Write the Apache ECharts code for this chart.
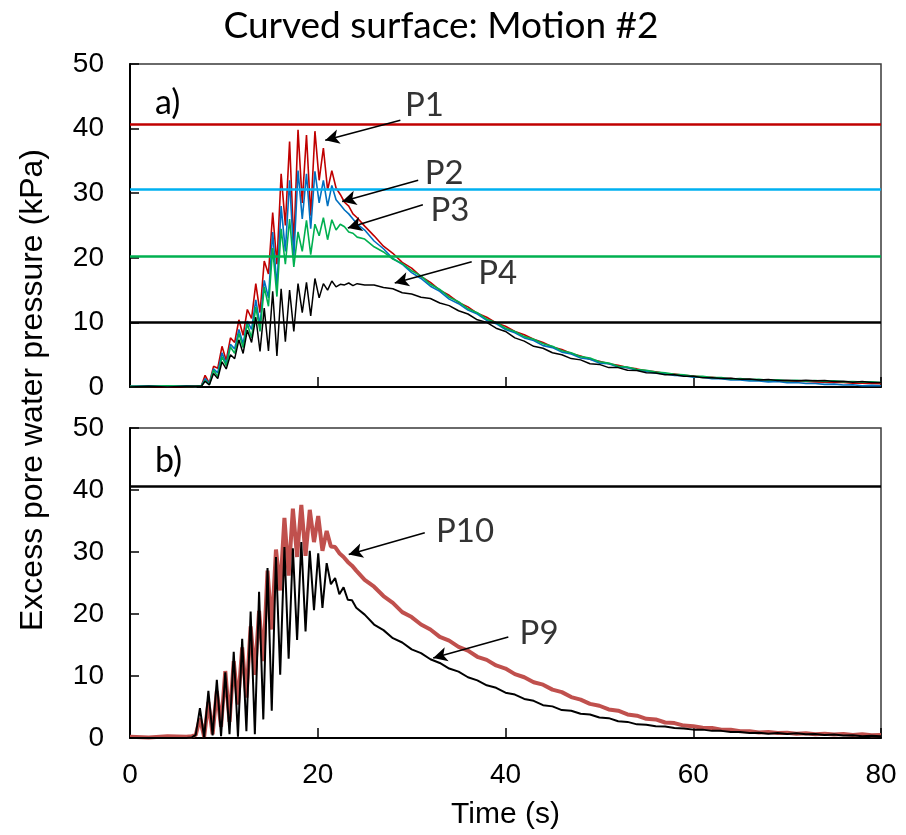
<!DOCTYPE html>
<html>
<head>
<meta charset="utf-8">
<script src="https://cdn.jsdelivr.net/npm/echarts@6/dist/echarts.min.js"></script>
<style>
html,body{margin:0;padding:0;background:#fff;}
#chart{width:906px;height:835px;}
</style>
</head>
<body>
<div id="chart"></div>
<script>
// ---------- Panel a) time base (s) ----------
const timeA = [0, 2, 4, 6, 7, 7.6,
  8.0, 8.45, 8.9, 9.35, 9.8, 10.25, 10.7, 11.15, 11.6, 12.05,
  12.5, 12.95, 13.4, 13.85, 14.3, 14.75, 15.2, 15.65, 16.1, 16.55,
  17.0, 17.45, 17.9, 18.35, 18.8, 19.25, 19.7, 20.15, 20.6, 21.05,
  21.5, 21.95, 22.4, 22.85, 23.3, 23.75, 24.2,
  25, 26, 27, 28, 29, 30, 31, 32, 33, 34,
  35, 36, 37, 38, 39, 40, 41, 42, 43, 44,
  45, 46, 47, 48, 49, 50, 51, 52, 53, 54,
  55, 56, 57, 58, 59, 60, 61, 62, 63, 64,
  65, 66, 67, 68, 69, 70, 71, 72, 73, 74,
  75, 76, 77, 78, 79, 80];

const p1 = [0.1, 0.1, 0.0, 0.1, 0.1, 0.2,
  1.8, 0.6, 3.2, 2.9, 6.3, 4.1, 7.6, 6.9, 10.4, 8.0,
  12.0, 10.6, 16.0, 11.5, 19.5, 17.5, 27.0, 19.0, 33.0, 25.0,
  38.0, 22.0, 39.8, 28.5, 39.0, 26.5, 39.6, 32.0, 37.0, 30.5,
  33.5, 30.8, 29.8, 28.6, 28.0, 26.8, 26.2,
  24.9, 23.4, 21.8, 20.7, 19.3, 18.4, 17.1, 16.2, 15.0, 14.2,
  13.1, 12.4, 11.4, 10.8, 9.9, 9.4, 8.6, 8.1, 7.4, 6.9,
  6.2, 5.8, 5.2, 4.8, 4.3, 4.0, 3.6, 3.35, 3.0, 2.8,
  2.5, 2.35, 2.1, 2.0, 1.8, 1.7, 1.55, 1.5, 1.35, 1.3,
  1.2, 1.15, 1.05, 1.0, 0.95, 0.95, 0.85, 0.85, 0.8, 0.75,
  0.7, 0.7, 0.6, 0.6, 0.55, 0.5];

const p2 = [0.1, 0.2, 0.1, 0.2, 0.1, 0.2,
  1.3, 0.5, 2.8, 2.2, 5.3, 3.6, 6.6, 5.9, 8.9, 6.7,
  10.2, 8.9, 13.5, 9.6, 16.5, 13.8, 24.0, 15.5, 28.0, 21.0,
  32.0, 20.0, 33.5, 26.0, 33.0, 24.5, 33.4, 28.5, 32.0, 28.0,
  31.2, 29.0, 28.2, 27.4, 26.8, 26.0, 25.2,
  24.3, 22.6, 21.4, 19.9, 19.0, 17.7, 16.8, 15.6, 14.8, 13.6,
  12.9, 11.9, 11.3, 10.3, 9.8, 8.9, 8.4, 7.6, 7.2, 6.4,
  6.1, 5.4, 5.1, 4.5, 4.3, 3.7, 3.6, 3.1, 3.0, 2.6,
  2.45, 2.15, 2.05, 1.8, 1.75, 1.5, 1.5, 1.3, 1.3, 1.1,
  1.1, 0.95, 0.95, 0.8, 0.85, 0.65, 0.7, 0.55, 0.55, 0.4,
  0.45, 0.3, 0.35, 0.2, 0.25, 0.2];

const p3 = [0.1, 0.1, 0.2, 0.1, 0.1, 0.2,
  1.0, 0.4, 2.6, 1.6, 4.7, 3.3, 6.2, 5.2, 8.3, 6.1,
  9.8, 7.6, 12.4, 8.6, 15.5, 12.5, 21.5, 14.0, 24.5, 19.0,
  26.0, 18.6, 24.0, 21.0, 25.8, 20.5, 25.2, 23.4, 26.2, 22.8,
  25.9, 24.3, 25.2, 24.8, 24.0, 23.8, 23.2,
  22.9, 21.7, 20.9, 19.8, 19.1, 18.0, 17.2, 15.9, 15.1, 13.9,
  13.2, 12.1, 11.5, 10.5, 10.0, 9.1, 8.6, 7.8, 7.4, 6.7,
  6.3, 5.6, 5.3, 4.7, 4.5, 3.9, 3.7, 3.2, 3.1, 2.7,
  2.6, 2.3, 2.2, 1.95, 1.9, 1.65, 1.65, 1.45, 1.45, 1.25,
  1.3, 1.15, 1.2, 1.05, 1.1, 0.95, 1.05, 0.9, 1.0, 0.85,
  0.95, 0.8, 0.85, 0.75, 0.8, 0.7];

const p4 = [0.0, 0.1, 0.0, 0.1, 0.1, 0.1,
  0.9, 0.3, 2.1, 1.3, 3.9, 2.8, 5.0, 4.4, 7.3, 5.2,
  8.8, 6.9, 10.8, 5.5, 12.2, 5.6, 14.8, 4.8, 15.2, 7.0,
  15.0, 8.6, 16.0, 11.5, 16.2, 11.0, 16.8, 13.8, 16.0, 15.0,
  16.4, 15.5, 15.9, 15.8, 16.1, 15.7, 16.0,
  15.8, 15.8, 15.4, 15.2, 14.6, 14.4, 13.9, 13.7, 13.0, 12.6,
  11.8, 11.3, 10.4, 10.0, 9.1, 8.6, 7.6, 7.1, 6.3, 6.0,
  5.3, 5.0, 4.4, 4.2, 3.6, 3.5, 3.0, 3.0, 2.6, 2.55,
  2.2, 2.15, 1.9, 1.9, 1.65, 1.65, 1.45, 1.45, 1.3, 1.35,
  1.2, 1.25, 1.1, 1.15, 1.0, 1.05, 0.95, 1.05, 0.95, 1.0,
  0.85, 0.9, 0.75, 0.85, 0.7, 0.7];

// reference levels (kPa) drawn as horizontal lines in panel a)
const levelsA = [40.6, 30.6, 20.3, 10.0];

// ---------- Panel b) time base (s) ----------
const timeB = [0, 2, 4, 6, 6.6,
  7.0, 7.45, 7.9, 8.35, 8.8, 9.25, 9.7, 10.15, 10.6, 11.05,
  11.5, 11.95, 12.4, 12.85, 13.3, 13.75, 14.2, 14.65, 15.1, 15.55,
  16.0, 16.45, 16.9, 17.35, 17.8, 18.25, 18.7, 19.15, 19.6, 20.05,
  20.5, 20.95, 21.4, 21.85, 22.3, 22.75, 23.2, 23.65, 24.1,
  25, 26, 27, 28, 29, 30, 31, 32, 33, 34,
  35, 36, 37, 38, 39, 40, 41, 42, 43, 44,
  45, 46, 47, 48, 49, 50, 51, 52, 53, 54,
  55, 56, 57, 58, 59, 60, 61, 62, 63, 64,
  65, 66, 67, 68, 69, 70, 71, 72, 73, 74,
  75, 76, 77, 78, 79, 80];

const p10 = [0.2, 0.1, 0.3, 0.2, 0.3,
  0.5, 3.2, 0.2, 5.8, 0.6, 7.6, 1.8, 10.8, 2.6, 12.4,
  5.4, 14.6, 6.5, 18.0, 10.2, 20.5, 12.4, 27.0, 17.5, 30.4,
  23.8, 35.5, 26.2, 37.0, 29.2, 37.6, 29.4, 36.8, 31.6, 35.8,
  30.2, 33.4, 30.9, 30.8, 29.8, 29.2, 28.4, 27.8, 27.0,
  25.5, 24.4, 22.9, 21.8, 20.3, 19.5, 18.3, 17.5, 16.3, 15.7,
  14.7, 14.1, 13.1, 12.6, 11.7, 11.2, 10.3, 9.8, 9.0, 8.6,
  7.8, 7.4, 6.6, 6.2, 5.5, 5.2, 4.6, 4.4, 3.8, 3.6,
  3.1, 3.0, 2.5, 2.4, 2.0, 1.9, 1.65, 1.6, 1.35, 1.35,
  1.1, 1.1, 0.9, 0.95, 0.8, 0.85, 0.7, 0.75, 0.6, 0.7,
  0.55, 0.65, 0.5, 0.6, 0.45, 0.5];

const p9 = [0.0, 0.0, 0.0, 0.0, 0.1,
  0.5, 4.8, 0.1, 7.6, 0.4, 9.4, 0.3, 10.6, 0.6, 13.9,
  0.2, 16.0, 1.1, 20.4, 0.6, 23.6, 3.0, 27.4, 4.4, 29.2,
  10.2, 30.8, 12.8, 30.6, 15.8, 31.6, 17.2, 30.2, 20.6, 29.8,
  21.0, 28.2, 24.8, 25.8, 23.2, 24.3, 22.3, 22.2, 21.0,
  19.9, 18.3, 17.4, 16.1, 15.4, 14.3, 13.7, 12.7, 12.1, 11.2,
  10.7, 9.8, 9.3, 8.5, 8.1, 7.3, 7.0, 6.3, 6.0, 5.3,
  5.1, 4.5, 4.4, 3.9, 3.8, 3.3, 3.2, 2.7, 2.6, 2.2,
  2.15, 1.9, 1.85, 1.6, 1.55, 1.35, 1.35, 1.15, 1.15, 0.95,
  0.95, 0.8, 0.85, 0.7, 0.8, 0.65, 0.75, 0.6, 0.65, 0.5,
  0.55, 0.4, 0.45, 0.3, 0.35, 0.3];

const levelsB = [40.6];

// axis ticks
const xTicks = [0, 20, 40, 60, 80];
const yTicks = [0, 10, 20, 30, 40, 50];

// ---------- annotations (data coordinates) ----------
const annA = [
  {name: 'P1', text: [29.3, 43.6], from: [28.8, 41.3], to: [20.8, 38.2]},
  {name: 'P2', text: [31.4, 33.0], from: [30.7, 32.0], to: [22.6, 28.7]},
  {name: 'P3', text: [32.0, 27.3], from: [31.2, 28.2], to: [23.2, 24.6]},
  {name: 'P4', text: [37.1, 17.6], from: [36.4, 19.4], to: [28.2, 16.1]}
];
const annB = [
  {name: 'P10', text: [32.6, 33.4], from: [31.4, 33.1], to: [23.3, 29.6]},
  {name: 'P9', text: [41.5, 16.8], from: [40.3, 16.3], to: [32.3, 12.9]}
];

function pairs(t, v) { return t.map((x, i) => [x, v[i]]); }

const chart = echarts.init(document.getElementById('chart'), null, {renderer: 'canvas'});
const tickFont = {fontFamily: 'Liberation Sans, Arial', fontSize: 28, color: '#000'};
const labelFont = 'Lato, Carlito, Calibri, sans-serif';

function makeX(gi, showLabel) {
  return {
    gridIndex: gi, type: 'value', min: xTicks[0], max: xTicks[xTicks.length - 1], interval: 20,
    axisLine: {show: true, onZero: false, lineStyle: {color: '#000', width: 2}},
    axisTick: {show: true, inside: true, length: 10, lineStyle: {color: '#000', width: 1.5}},
    axisLabel: Object.assign({show: showLabel, margin: 23}, tickFont),
    splitLine: {show: false},
    name: showLabel ? 'Time (s)' : '',
    nameLocation: 'middle', nameGap: 62,
    nameTextStyle: {fontFamily: 'Liberation Sans, Arial', fontSize: 30, color: '#000'}
  };
}
function makeY(gi) {
  return {
    gridIndex: gi, type: 'value', min: yTicks[0], max: yTicks[yTicks.length - 1], interval: 10,
    axisLine: {show: true, onZero: false, lineStyle: {color: '#000', width: 2}},
    axisTick: {show: true, inside: true, length: 9, lineStyle: {color: '#000', width: 1.5}},
    axisLabel: Object.assign({show: true, margin: 26}, tickFont),
    splitLine: {show: false}
  };
}
function dataLine(name, gi, t, v, color, width) {
  return {
    name: name, type: 'line', xAxisIndex: gi, yAxisIndex: gi,
    data: pairs(t, v), showSymbol: false, symbol: 'none', sampling: 'none',
    lineStyle: {color: color, width: width}, itemStyle: {color: color},
    silent: true, z: 2
  };
}
function levelMarks(levels, colors) {
  return {
    silent: true, symbol: ['none', 'none'], animation: false,
    label: {show: false},
    data: levels.map((lv, i) => ({yAxis: lv, lineStyle: {color: colors[i], width: 2.5, type: 'solid'}}))
  };
}
function annSeries(gi, ann) {
  return {
    type: 'scatter', xAxisIndex: gi, yAxisIndex: gi, symbolSize: 0, silent: true, z: 10,
    data: ann.map(a => ({name: a.name, value: a.text})),
    label: {show: true, position: 'right', distance: 0, formatter: '{b}',
      fontFamily: labelFont, fontSize: 33, color: '#000'},
    markLine: {
      silent: true, symbol: ['none', 'arrow'], symbolSize: [11, 14], animation: false,
      label: {show: false},
      lineStyle: {color: '#000', width: 1.6, type: 'solid'},
      data: ann.map(a => [{coord: a.from}, {coord: a.to}])
    }
  };
}

const sP4 = dataLine('P4', 0, timeA, p4, '#000000', 1.5);
sP4.markLine = levelMarks(levelsA, ['#C00000', '#00B0F0', '#00B050', '#000000']);
const sP9 = dataLine('P9', 1, timeB, p9, '#000000', 2);
sP9.markLine = levelMarks(levelsB, ['#000000']);

const option = {
  animation: false,
  backgroundColor: '#fff',
  grid: [
    {left: 130, right: 25, top: 64, height: 323, show: true, borderColor: '#3a3a3a', borderWidth: 1.5, containLabel: false},
    {left: 130, right: 25, top: 428, height: 310, show: true, borderColor: '#3a3a3a', borderWidth: 1.5, containLabel: false}
  ],
  xAxis: [makeX(0, false), makeX(1, true)],
  yAxis: [makeY(0), makeY(1)],
  series: [
    dataLine('P1', 0, timeA, p1, '#C00000', 1.6),
    dataLine('P2', 0, timeA, p2, '#0070C0', 1.6),
    dataLine('P3', 0, timeA, p3, '#00B050', 1.6),
    sP4,
    dataLine('P10', 1, timeB, p10, '#C0504D', 4),
    sP9,
    annSeries(0, annA),
    annSeries(1, annB)
  ],
  graphic: [
    {type: 'text', x: 441, y: 26, silent: true,
      style: {text: 'Curved surface: Motion #2', fontFamily: labelFont, fontSize: 37, fill: '#000',
        align: 'center', verticalAlign: 'middle', textAlign: 'center', textVerticalAlign: 'middle'}},
    {type: 'text', x: 155, y: 103, silent: true,
      style: {text: 'a)', fontFamily: labelFont, fontSize: 34, fill: '#000',
        align: 'left', verticalAlign: 'middle', textAlign: 'left', textVerticalAlign: 'middle'}},
    {type: 'text', x: 155, y: 461, silent: true,
      style: {text: 'b)', fontFamily: labelFont, fontSize: 34, fill: '#000',
        align: 'left', verticalAlign: 'middle', textAlign: 'left', textVerticalAlign: 'middle'}},
    {type: 'text', x: 33, y: 390, rotation: Math.PI / 2, silent: true,
      style: {text: 'Excess pore water pressure (kPa)', fontFamily: 'Liberation Sans, Arial', fontSize: 32, fill: '#000',
        align: 'center', verticalAlign: 'middle', textAlign: 'center', textVerticalAlign: 'middle'}}
  ]
};
chart.setOption(option);
</script>
</body>
</html>
